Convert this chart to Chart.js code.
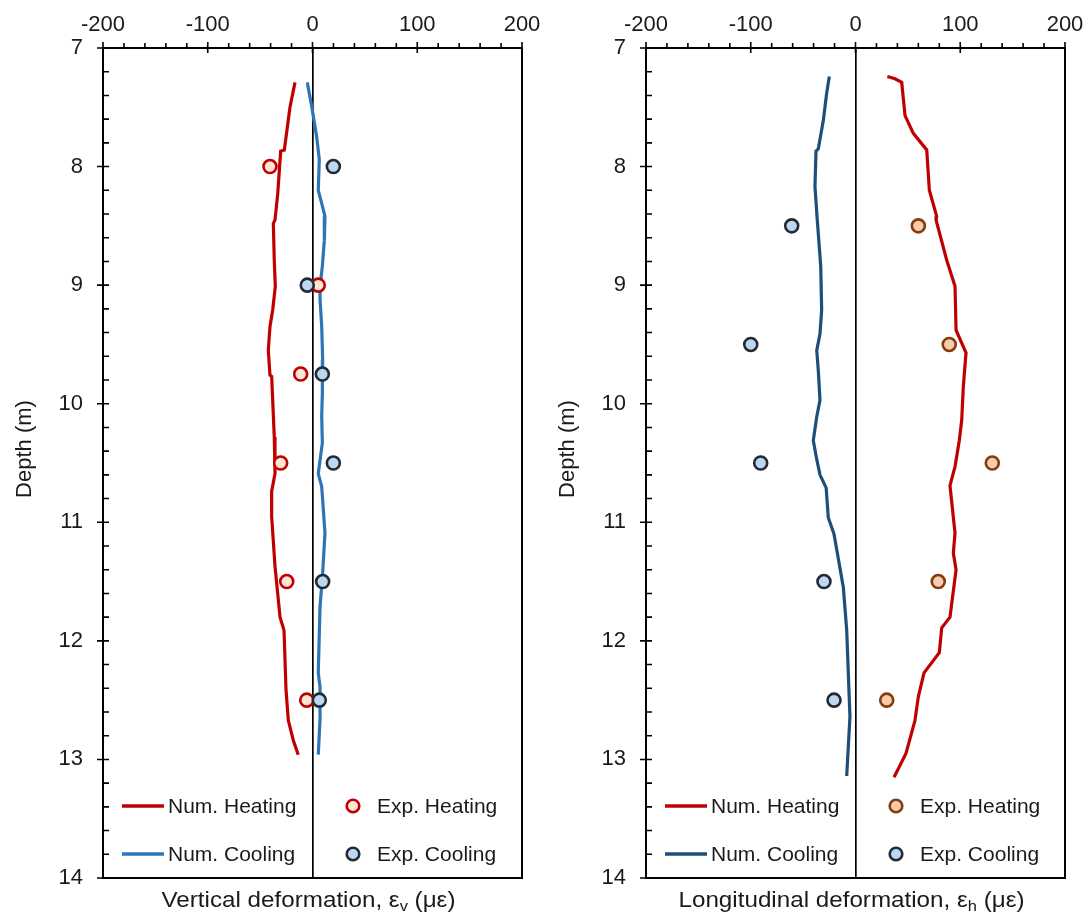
<!DOCTYPE html>
<html><head><meta charset="utf-8">
<script src="https://cdn.jsdelivr.net/npm/chart.js@4/dist/chart.umd.min.js"></script>
<style>
html,body{margin:0;padding:0;background:#fff;}
#wrap{position:relative;width:1087px;height:922px;overflow:hidden;}
canvas{position:absolute;top:0;}
</style></head><body>
<div id="wrap">
<canvas id="cv" width="543" height="922" style="left:0"></canvas>
<canvas id="ch" width="543" height="922" style="left:543px"></canvas>
</div>
<script>
// ---------- Data: vertical deformation (left panel) ----------
const vNumHeatDepth = [7.29, 7.5, 7.86, 7.87, 8.23, 8.45, 8.48, 8.79, 9.01, 9.21, 9.35, 9.55, 9.76, 9.77, 9.97, 10.28, 10.59, 10.74, 10.95, 11.37, 11.80, 11.91, 12.41, 12.67, 12.84, 12.96];
const vNumHeatVal   = [-16.7, -21.5, -26.9, -30.4, -33.2, -35.8, -37.4, -36.5, -35.5, -38, -40.6, -42.2, -40.6, -39, -38, -36.5, -35.8, -39, -39, -35.8, -31, -27.2, -25.3, -23.1, -18.3, -13.6];
const vNumCoolDepth = [7.29, 7.49, 7.75, 7.94, 8.2, 8.31, 8.42, 8.62, 8.84, 9.01, 9.12, 9.35, 9.63, 9.91, 10.11, 10.33, 10.59, 10.7, 11.09, 11.43, 11.71, 12.27, 12.39, 12.66, 12.96];
const vNumCoolVal   = [-5, -0.8, 4, 6.5, 5.5, 8.8, 11.9, 11.3, 9.4, 7.2, 7.2, 8.8, 9.7, 9.4, 8.8, 9.4, 5.5, 8.8, 11.9, 9.7, 7.2, 5.5, 7.2, 7.2, 5.5];
const vExpDepth     = [8, 9, 9.75, 10.5, 11.5, 12.5];
const vExpHeatVal   = [-40.6, 5.5, -11.3, -30.4, -24.6, -5.5];
const vExpCoolVal   = [19.9, -5, 9.4, 19.9, 9.7, 6.5];

// ---------- Data: longitudinal deformation (right panel) ----------
const hNumHeatDepth = [7.24, 7.26, 7.29, 7.57, 7.72, 7.86, 8.2, 8.42, 8.45, 8.79, 9.01, 9.38, 9.57, 9.86, 10.14, 10.31, 10.53, 10.69, 11.09, 11.26, 11.4, 11.8, 11.89, 12.1, 12.27, 12.47, 12.67, 12.95, 13.15];
const hNumHeatVal   = [30.4, 37.7, 44.1, 47.3, 55.2, 68, 70.5, 77.5, 76.9, 87.1, 95, 96, 105.5, 102.9, 101.4, 99.1, 95, 90.2, 95, 93.4, 96, 90.2, 82.3, 80, 65.4, 60, 56.8, 48.2, 36.8];
const hNumCoolDepth = [7.24, 7.38, 7.61, 7.85, 7.87, 8.17, 8.45, 8.84, 9.21, 9.41, 9.55, 9.72, 9.97, 10.11, 10.31, 10.47, 10.6, 10.71, 10.96, 11.1, 11.55, 11.91, 12.64, 13.14];
const hNumCoolVal   = [-25, -27.5, -30.7, -35.5, -37.7, -38.7, -36.5, -33.2, -32.3, -33.9, -37, -35.5, -33.9, -37, -40.3, -37, -33.9, -28, -26, -20.5, -11.6, -8.4, -5.3, -8.4];
const hExpDepth     = [8.5, 9.5, 10.5, 11.5, 12.5];
const hExpHeatVal   = [60, 89.5, 130.6, 79, 29.8];
const hExpCoolVal   = [-60.9, -100, -90.5, -30.1, -20.5];

// ---------- Axis ranges / labels ----------
const xMin = -200, xMax = 200, xMajor = 100, xMinor = 20;
const yMin = 7, yMax = 14, yMajor = 1, yMinor = 0.2;
const yTitle = 'Depth (m)';
const legendLabels = ['Num. Heating', 'Num. Cooling', 'Exp. Heating', 'Exp. Cooling'];

const FONT = "'Liberation Sans', Arial, sans-serif";
const TXT = '#1a1a1a';

function pts(xs, ys) { return xs.map((v, i) => ({ x: v, y: ys[i] })); }

function drawParts(ctx, parts, cx, baseY, size, stretch) {
  const main = size + 'px ' + FONT, sub = Math.round(size * 0.66) + 'px ' + FONT;
  let w = 0;
  parts.forEach(p => { ctx.font = p.sub ? sub : main; w += ctx.measureText(p.t).width; });
  ctx.save();
  ctx.translate(cx, baseY);
  ctx.scale(stretch, 1);
  let x = -w / 2;
  ctx.textAlign = 'left';
  parts.forEach(p => {
    ctx.font = p.sub ? sub : main;
    ctx.fillText(p.t, x, p.sub ? size * 0.2 : 0);
    x += ctx.measureText(p.t).width;
  });
  ctx.restore();
}

const decoPlugin = {
  id: 'deco',
  afterDatasetsDraw(chart, args, opts) {
    const { ctx, chartArea: a, scales: { x, y } } = chart;
    ctx.save();
    ctx.strokeStyle = '#000';
    ctx.lineWidth = 2;
    ctx.beginPath();
    ctx.moveTo(a.right, a.top - 1);
    ctx.lineTo(a.right, a.bottom);
    ctx.lineTo(a.left - 1, a.bottom);
    ctx.stroke();
    ctx.lineWidth = 1.6;
    ctx.beginPath();
    const nx = Math.round((xMax - xMin) / xMinor);
    for (let k = 0; k <= nx; k++) {
      const v = xMin + k * xMinor;
      const px = x.getPixelForValue(v);
      const major = (k * xMinor) % xMajor === 0;
      ctx.moveTo(px, a.top - (major ? 6 : 5));
      ctx.lineTo(px, a.top + (major ? 5 : 0));
    }
    const ny = Math.round((yMax - yMin) / yMinor);
    const per = Math.round(yMajor / yMinor);
    for (let k = 0; k <= ny; k++) {
      const v = yMin + k * yMinor;
      const py = y.getPixelForValue(v);
      const major = k % per === 0;
      ctx.moveTo(a.left - (major ? 6 : 0), py);
      ctx.lineTo(a.left + 6, py);
    }
    ctx.stroke();

    // legend (2 x 2, inside the plot)
    const ds = chart.data.datasets;
    const rows = [a.bottom - 72, a.bottom - 24];
    ctx.font = '21px ' + FONT;
    ctx.fillStyle = TXT;
    ctx.textBaseline = 'middle';
    ctx.textAlign = 'left';
    [ds[0], ds[1]].forEach((d, i) => {
      ctx.strokeStyle = d.borderColor; ctx.lineWidth = 3.5;
      ctx.beginPath(); ctx.moveTo(a.left + 19, rows[i]); ctx.lineTo(a.left + 61, rows[i]); ctx.stroke();
      ctx.fillText(d.label, a.left + 65, rows[i] + 1);
    });
    [ds[2], ds[3]].forEach((d, i) => {
      ctx.beginPath(); ctx.arc(a.left + 250, rows[i], 6.3, 0, Math.PI * 2);
      ctx.fillStyle = d.backgroundColor; ctx.fill();
      ctx.strokeStyle = d.borderColor; ctx.lineWidth = 2.6; ctx.stroke();
      ctx.fillStyle = TXT;
      ctx.fillText(d.label, a.left + 274, rows[i] + 1);
    });

    // axis titles
    ctx.textBaseline = 'alphabetic';
    ctx.fillStyle = TXT;
    drawParts(ctx, opts.xTitle, (a.left + a.right) / 2 - 4, 907, 22, 1.1);
    ctx.translate(25, 449);
    ctx.rotate(-Math.PI / 2);
    ctx.textAlign = 'center';
    ctx.textBaseline = 'middle';
    ctx.font = '22px ' + FONT;
    ctx.fillText(yTitle, 0, 0);
    ctx.restore();
  }
};

function makeChart(id, sets, xTitle) {
  return new Chart(document.getElementById(id), {
    type: 'scatter',
    data: { datasets: sets },
    options: {
      responsive: false,
      animation: false,
      devicePixelRatio: 1,
      layout: { padding: { top: 0, left: 0, right: 21, bottom: 44 } },
      plugins: { legend: { display: false }, tooltip: { enabled: false }, deco: { xTitle } },
      scales: {
        x: {
          type: 'linear', position: 'top', min: xMin, max: xMax,
          ticks: { stepSize: xMajor, font: { size: 22, family: FONT }, color: TXT, padding: 10, maxRotation: 0 },
          grid: { drawTicks: false, drawOnChartArea: true, lineWidth: 1.7,
                  color: c => (c.tick && c.tick.value === 0) ? '#000' : 'rgba(0,0,0,0)' },
          border: { display: true, color: '#000', width: 2 },
          afterFit: s => { s.height = 48; s.paddingLeft = 0; s.paddingRight = 0; }
        },
        y: {
          type: 'linear', position: 'left', reverse: true, min: yMin, max: yMax,
          ticks: { stepSize: yMajor, font: { size: 22, family: FONT }, color: TXT, padding: 20 },
          grid: { drawTicks: false, drawOnChartArea: false },
          border: { display: true, color: '#000', width: 2 },
          afterFit: s => { s.width = 103; s.paddingTop = 0; s.paddingBottom = 0; }
        }
      }
    },
    plugins: [decoPlugin]
  });
}

function lineSet(label, color, xs, ys) {
  return { label, data: pts(xs, ys), showLine: true, borderColor: color, backgroundColor: color,
           borderWidth: 3.2, pointRadius: 0, tension: 0, order: 2 };
}
function dotSet(label, fill, edge, xs, ys, order) {
  return { label, data: pts(xs, ys), showLine: false, backgroundColor: fill, borderColor: edge,
           borderWidth: 2.6, pointRadius: 6.5, order };
}

makeChart('cv', [
  lineSet(legendLabels[0], '#C00000', vNumHeatVal, vNumHeatDepth),
  lineSet(legendLabels[1], '#2E75B6', vNumCoolVal, vNumCoolDepth),
  dotSet(legendLabels[2], '#FBE5D6', '#C00000', vExpHeatVal, vExpDepth, 1),
  dotSet(legendLabels[3], '#BDD7EE', '#222B35', vExpCoolVal, vExpDepth, 0)
], [{ t: 'Vertical deformation, ε' }, { t: 'v', sub: true }, { t: ' (με)' }]);

makeChart('ch', [
  lineSet(legendLabels[0], '#C00000', hNumHeatVal, hNumHeatDepth),
  lineSet(legendLabels[1], '#1F4E79', hNumCoolVal, hNumCoolDepth),
  dotSet(legendLabels[2], '#F8CBAD', '#843C0C', hExpHeatVal, hExpDepth, 1),
  dotSet(legendLabels[3], '#BDD7EE', '#222B35', hExpCoolVal, hExpDepth, 0)
], [{ t: 'Longitudinal deformation, ε' }, { t: 'h', sub: true }, { t: ' (με)' }]);
</script>
</body></html>
